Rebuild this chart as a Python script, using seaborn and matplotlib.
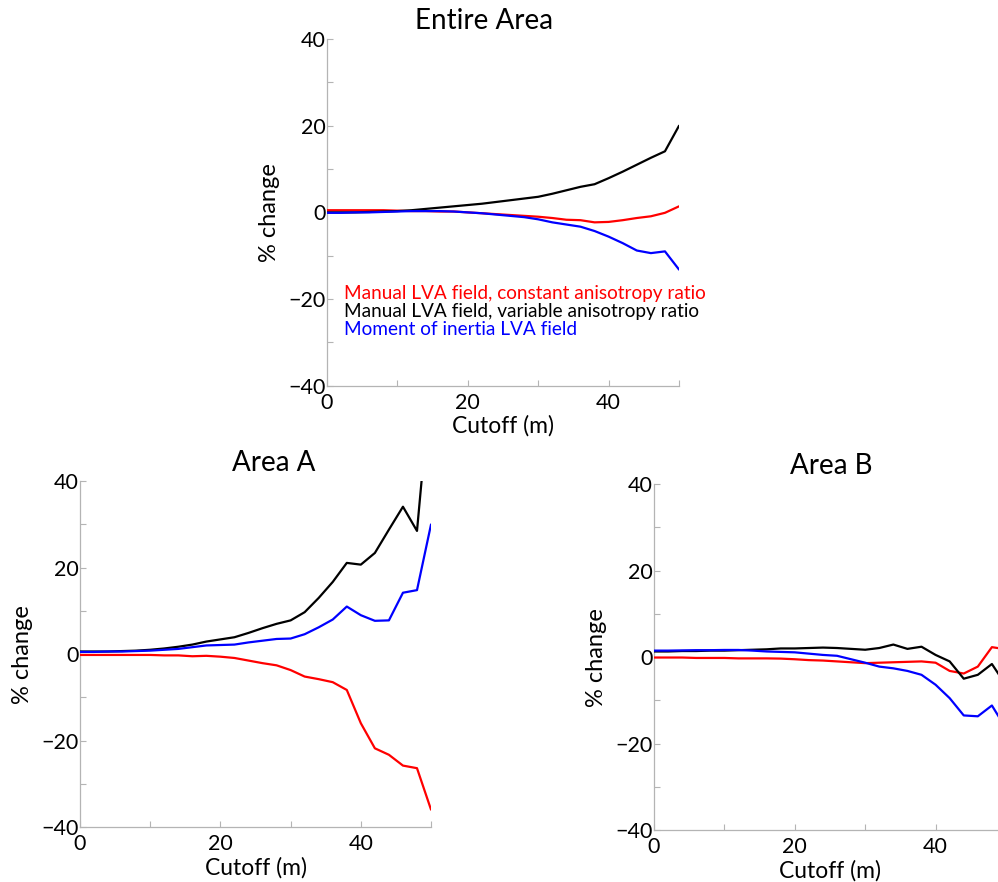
import numpy as np
import pandas as pd
import matplotlib
matplotlib.use("Agg")
import matplotlib.pyplot as plt
import seaborn as sns

# Cutoff distances (m)
cutoff = [0, 2, 4, 6, 8, 10, 12, 14, 16, 18, 20, 22, 24, 26, 28, 30,
          32, 34, 36, 38, 40, 42, 44, 46, 48, 50]

series_names = ["Manual LVA field, constant anisotropy ratio",
                "Manual LVA field, variable anisotropy ratio",
                "Moment of inertia LVA field"]
series_colors = ["#ff0000", "#000000", "#0000ff"]

# % change, entire area
entire_const = [0.5, 0.5, 0.5, 0.5, 0.5, 0.4, 0.3, 0.3, 0.2, 0.2, 0.0, -0.2, -0.4,
                -0.6, -0.8, -1.0, -1.3, -1.7, -1.8, -2.3, -2.2, -1.8, -1.3, -0.9,
                -0.1, 1.4]
entire_var = [0.0, 0.0, 0.0, 0.1, 0.2, 0.3, 0.5, 0.8, 1.1, 1.4, 1.7, 2.0, 2.4, 2.8,
              3.2, 3.6, 4.3, 5.1, 5.9, 6.5, 7.9, 9.4, 11.0, 12.6, 14.1, 20.0]
entire_moi = [-0.1, -0.1, 0.0, 0.0, 0.1, 0.2, 0.3, 0.3, 0.3, 0.2, 0.0, -0.2, -0.5,
              -0.8, -1.1, -1.6, -2.3, -2.8, -3.3, -4.3, -5.6, -7.1, -8.8, -9.4,
              -9.0, -13.2]

# % change, area A
a_const = [-0.2, -0.2, -0.2, -0.2, -0.2, -0.2, -0.3, -0.3, -0.5, -0.4, -0.6, -0.9,
           -1.5, -2.1, -2.6, -3.7, -5.2, -5.8, -6.5, -8.3, -16.0, -21.8, -23.3,
           -25.8, -26.4, -36.0]
a_var = [0.6, 0.6, 0.6, 0.7, 0.8, 1.0, 1.3, 1.7, 2.2, 2.9, 3.4, 3.9, 4.9, 6.0, 7.0,
         7.8, 9.7, 13.0, 16.7, 21.1, 20.7, 23.4, 28.8, 34.1, 28.5, 64.0]
a_moi = [0.5, 0.5, 0.6, 0.6, 0.7, 0.8, 1.0, 1.2, 1.6, 2.0, 2.1, 2.2, 2.7, 3.1, 3.5,
         3.6, 4.6, 6.2, 8.0, 11.0, 9.0, 7.7, 7.8, 14.2, 14.8, 30.0]

# % change, area B
b_const = [-0.1, -0.1, -0.1, -0.2, -0.2, -0.2, -0.3, -0.3, -0.3, -0.35, -0.5,
           -0.7, -0.8, -1.0, -1.2, -1.4, -1.3, -1.2, -1.1, -1.0, -1.3, -3.2, -3.8,
           -2.2, 2.3, 1.8]
b_var = [1.3, 1.3, 1.4, 1.4, 1.5, 1.5, 1.6, 1.7, 1.8, 2.0, 2.0, 2.1, 2.2, 2.1, 1.9,
         1.7, 2.1, 2.9, 1.9, 2.4, 0.5, -1.0, -5.0, -4.1, -1.6, -6.5]
b_moi = [1.5, 1.5, 1.55, 1.6, 1.6, 1.65, 1.65, 1.5, 1.3, 1.2, 1.1, 0.8, 0.5, 0.3,
         -0.5, -1.3, -2.2, -2.6, -3.2, -4.1, -6.4, -9.5, -13.5, -13.7, -11.2, -16.5]

panels = [
    ("Entire Area", [entire_const, entire_var, entire_moi]),
    ("Area A", [a_const, a_var, a_moi]),
    ("Area B", [b_const, b_var, b_moi]),
]

sns.set_style("white")
plt.rcParams["font.family"] = ["Lato", "DejaVu Sans"]
plt.rcParams["axes.unicode_minus"] = True
plt.rcParams["text.color"] = "black"
plt.rcParams["axes.labelcolor"] = "black"
plt.rcParams["xtick.labelcolor"] = "black"
plt.rcParams["ytick.labelcolor"] = "black"

fig = plt.figure(figsize=(9.98, 8.82), dpi=100)
positions = [
    [0.3277, 0.5627, 0.3527, 0.393],
    [0.0802, 0.0624, 0.3517, 0.392],
    [0.6553, 0.0590, 0.3527, 0.392],
]
title_x = [0.446, 0.553, 0.505]

palette = dict(zip(series_names, series_colors))
spine_gray = "#b4b4b4"

for (title, values), pos, tx in zip(panels, positions, title_x):
    ax = fig.add_axes(pos)
    df = pd.DataFrame({
        "cutoff": np.tile(cutoff, 3),
        "change": np.concatenate(values),
        "series": np.repeat(series_names, len(cutoff)),
    })
    sns.lineplot(data=df, x="cutoff", y="change", hue="series",
                 palette=palette, hue_order=series_names, linewidth=1.6,
                 legend=False, ax=ax, zorder=3)
    ax.set_xlim(0, 50)
    ax.set_ylim(-40, 40)
    ax.set_xticks([0, 20, 40])
    ax.set_xticks([10, 30, 50], minor=True)
    ax.set_yticks([-40, -20, 0, 20, 40])
    ax.set_yticks([-30, -10, 10, 30], minor=True)
    ax.tick_params(which="both", bottom=True, left=True, direction="in",
                   length=4, width=0.8, color=spine_gray,
                   labelcolor="black", labelsize=15.5)
    ax.tick_params(axis="y", pad=1)
    ax.tick_params(axis="x", pad=5)
    for side in ("top", "right"):
        ax.spines[side].set_visible(False)
    for side in ("left", "bottom"):
        ax.spines[side].set_color(spine_gray)
        ax.spines[side].set_linewidth(0.9)
    ax.set_xlabel("Cutoff (m)", fontsize=16.5, labelpad=2, color="black")
    ax.set_ylabel("% change", fontsize=17, labelpad=6, color="black")
    ax.set_title(title, fontsize=20, x=tx, pad=7, color="black")

    if title == "Entire Area":
        for i, (name, color) in enumerate(zip(series_names, series_colors)):
            ax.text(0.049, 0.267 - i * 0.053, name, color=color, fontsize=13.7,
                    transform=ax.transAxes, va="center", ha="left",
                    clip_on=False)

fig.savefig("out.png", dpi=100)
